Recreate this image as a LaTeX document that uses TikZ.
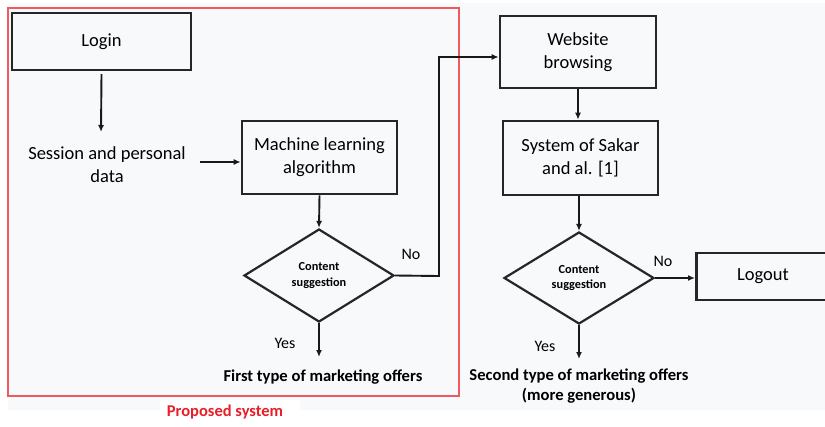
\documentclass[tikz,border=0pt]{standalone}
\usepackage{fontspec}
\setmainfont{Carlito}
\usetikzlibrary{shapes.geometric,arrows.meta}
\definecolor{bggrey}{RGB}{248,249,250}
\definecolor{framered}{RGB}{240,90,95}
\definecolor{labelred}{RGB}{232,30,40}
\tikzset{
  box/.style={draw=black!85, line width=2.6pt, fill=bggrey, inner sep=0pt, align=center, font=\fontsize{18.5}{23}\selectfont},
  decision/.style={diamond, draw=black!85, line width=2.2pt, fill=bggrey, inner sep=0pt, align=center, font=\bfseries\fontsize{12.3}{15.5}\selectfont},
  plain/.style={align=center, inner sep=0pt, font=\fontsize{18.5}{23}\selectfont},
  outcome/.style={align=center, inner sep=0pt, font=\bfseries\fontsize{16.6}{20}\selectfont},
  lab/.style={inner sep=0pt, font=\fontsize{16}{19}\selectfont},
  conn/.style={draw=black!90, line width=1.9pt},
  arr/.style={conn, -{Latex[length=7pt,width=6pt]}}
}
\begin{document}
\begin{tikzpicture}[x=1pt,y=-1pt]
\useasboundingbox (0,0) rectangle (825,426);
\fill[white] (0,0) rectangle (825,426);
\fill[bggrey] (8,3) rectangle (825,410);
\fill[white] (160,400) rectangle (300,426);
% proposed system frame
\draw[framered, line width=1.2pt] (8,8) rectangle (459,396);
\node[font=\bfseries\fontsize{16.5}{20}\selectfont, text=labelred, inner sep=0pt] (prop) at (225,412) {Proposed system};
% nodes
\node[box, minimum width=179pt, minimum height=57pt] (login) at (101.5,41.5) {Login};
\node[plain] (session) at (107,164.5) {Session and personal\\data};
\node[box, minimum width=155pt, minimum height=73pt] (ml) at (319.5,157.5) {Machine learning\\algorithm};
\node[decision, minimum width=150pt, minimum height=93pt] (d1) at (319,275.5) {Content\\suggestion};
\node[outcome] (first) at (323,377) {First type of marketing offers};
\node[box, minimum width=156pt, minimum height=72pt] (web) at (578,52) {Website\\browsing};
\node[box, minimum width=155pt, minimum height=74pt] (sakar) at (580.5,158) {System of Sakar\\and al. [1]};
\node[decision, minimum width=150pt, minimum height=92pt] (d2) at (579,278) {Content\\suggestion};
\node[box, minimum width=140pt, minimum height=47pt, anchor=west] (logout) at (695,276.5) {};
\node[plain] (logouttext) at (763,276) {Logout};
\node[outcome] (second) at (579,386) {Second type of marketing offers\\(more generous)};
% labels
\node[lab] (no1) at (411,254) {No};
\node[lab] (yes1) at (285,343) {Yes};
\node[lab] (no2) at (663,261) {No};
\node[lab] (yes2) at (545,346) {Yes};
% helper coordinates
\coordinate (loginend) at (101,132);
\coordinate (sessout) at (200,162);
\coordinate (yes1end) at (319,357);
\coordinate (yes2end) at (579,359);
\coordinate (turnA) at (439,276);
\coordinate (turnB) at (439,57);
% connectors
\draw[arr] (login.south |- 0,74) -- (loginend);
\draw[arr] (sessout) -- (sessout -| ml.west);
\draw[arr] (ml.south) -- (d1.north);
\draw[arr] (d1.south) -- (yes1end);
\draw[arr] (d1.east) -- (turnA) -- (turnB) -- (turnB -| web.west);
\draw[arr] (web.south) -- (web.south |- sakar.north);
\draw[arr] (sakar.south -| d2.north) -- (d2.north);
\draw[arr] (d2.east) -- (d2.east -| logout.west);
\draw[arr] (d2.south) -- (yes2end);
\end{tikzpicture}
\end{document}
